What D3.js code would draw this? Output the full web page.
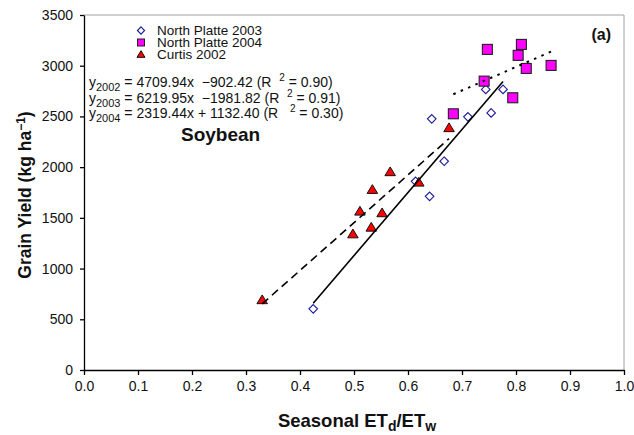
<!DOCTYPE html>
<html><head><meta charset="utf-8">
<script src="https://cdn.jsdelivr.net/npm/d3@7"></script>
<style>
body{margin:0;background:#fff;}
text{font-family:"Liberation Sans",Arial,sans-serif;}
</style></head>
<body><svg id="c" width="634" height="435"></svg>
<script>
// ---- data ----
const curtis2002X = [0.330, 0.498, 0.511, 0.532, 0.534, 0.552, 0.567, 0.620, 0.676];
const curtis2002Y = [691, 1340, 1564, 1406, 1778, 1548, 1953, 1850, 2387];
const np2003X = [0.4245, 0.614, 0.640, 0.644, 0.667, 0.711, 0.744, 0.754, 0.776];
const np2003Y = [603, 1860, 1712, 2476, 2058, 2496, 2766, 2535, 2766];
const np2004X = [0.684, 0.741, 0.747, 0.794, 0.804, 0.810, 0.819, 0.865];
const np2004Y = [2526, 2848, 3161, 2684, 3102, 3210, 2973, 3003];
const fitNames = ["2002", "2003", "2004"];
const fitSlopes = [4709.94, 6219.95, 2319.44];
const fitIntercepts = [-902.42, -1981.82, 1132.40];
const fitR2 = ["0.90", "0.91", "0.30"];
const xTicks = [0, 0.1, 0.2, 0.3, 0.4, 0.5, 0.6, 0.7, 0.8, 0.9, 1.0];
const yTicks = [0, 500, 1000, 1500, 2000, 2500, 3000, 3500];
const legendNames = ["North Platte 2003", "North Platte 2004", "Curtis 2002"];

const svg = d3.select("#c");
const x = d3.scaleLinear().domain([0, 1]).range([84, 624]);
const y = d3.scaleLinear().domain([0, 3500]).range([370, 15]);

// plot frame (top/right grey)
svg.append("path").attr("d", `M${x(0)},${y(3500)}H${x(1)}V${y(0)}`)
  .attr("fill", "none").attr("stroke", "#a0a0a0").attr("stroke-width", 1);

// axes
const xAxis = d3.axisBottom(x).tickValues(xTicks).tickFormat(d3.format(".1f")).tickSizeInner(5).tickSizeOuter(0).tickPadding(6);
const gx = svg.append("g").attr("transform", `translate(0,${y(0)})`).call(xAxis);
const yAxis = d3.axisLeft(y).tickValues(yTicks).tickFormat(d3.format("d")).tickSizeInner(4).tickSizeOuter(0).tickPadding(7);
const gy = svg.append("g").attr("transform", `translate(${x(0)},0)`).call(yAxis);
[gx, gy].forEach(g => {
  g.selectAll("path,line").attr("stroke", "#000").attr("stroke-width", 1.3);
  g.selectAll("text").attr("font-size", 14).attr("fill", "#111").attr("font-family", '"Liberation Sans",Arial,sans-serif');
});

// markers
function diamondPath(s){ return `M0,${-s}L${s},0L0,${s}L${-s},0Z`; }
function trianglePath(s){ return `M0,${-s}L${s*1.05},${s*0.75}L${-s*1.05},${s*0.75}Z`; }

svg.append("g").selectAll("path").data(np2003X).join("path")
  .attr("d", diamondPath(4.3))
  .attr("transform", (d, i) => `translate(${x(d)},${y(np2003Y[i])})`)
  .attr("fill", "none").attr("stroke", "#1a1a9a").attr("stroke-width", 1.1);

svg.append("g").selectAll("rect").data(np2004X).join("rect")
  .attr("x", d => x(d) - 5).attr("y", (d, i) => y(np2004Y[i]) - 5)
  .attr("width", 10).attr("height", 10)
  .attr("fill", "#ff00ff").attr("stroke", "#222").attr("stroke-width", 1.1);

svg.append("g").selectAll("path").data(curtis2002X).join("path")
  .attr("d", trianglePath(5))
  .attr("transform", (d, i) => `translate(${x(d)},${y(curtis2002Y[i])})`)
  .attr("fill", "#ff0000").attr("stroke", "#111").attr("stroke-width", 1);

// regression lines
const fitX = [curtis2002X, np2003X, np2004X];
const dashes = ["8,5", null, "2.5,5.5"];
fitNames.forEach((n, k) => {
  const x0 = d3.min(fitX[k]), x1 = d3.max(fitX[k]);
  svg.append("line")
    .attr("x1", x(x0)).attr("y1", y(fitSlopes[k] * x0 + fitIntercepts[k]))
    .attr("x2", x(x1)).attr("y2", y(fitSlopes[k] * x1 + fitIntercepts[k]))
    .attr("stroke", "#000").attr("stroke-width", k === 2 ? 2 : 1.6)
    .attr("stroke-dasharray", dashes[k]);
});

// legend
const lg = svg.append("g");
const legY = [30.5, 42.5, 54.5];
lg.append("path").attr("d", diamondPath(3.6)).attr("transform", `translate(141,${legY[0]})`)
  .attr("fill", "none").attr("stroke", "#1a1a9a").attr("stroke-width", 1.1);
lg.append("rect").attr("x", 137.5).attr("y", legY[1] - 3.5).attr("width", 7).attr("height", 7)
  .attr("fill", "#ff00ff").attr("stroke", "#222").attr("stroke-width", 1);
lg.append("path").attr("d", trianglePath(3.8)).attr("transform", `translate(141,${legY[2]})`)
  .attr("fill", "#ff0000").attr("stroke", "#111").attr("stroke-width", 1);
legendNames.forEach((n, i) => {
  lg.append("text").attr("x", 157).attr("y", legY[i] + 4.5).attr("font-size", 13.5).attr("fill", "#111").text(n);
});

// equations
const eqY = [87, 102.5, 118];
fitNames.forEach((n, k) => {
  const slope = fitSlopes[k].toFixed(2), b = fitIntercepts[k];
  const bStr = b < 0 ? "  \u2212" + Math.abs(b).toFixed(2) : " + " + b.toFixed(2);
  const t = svg.append("text").attr("x", 89).attr("y", eqY[k]).attr("font-size", 14)
    .attr("fill", "#111").attr("xml:space", "preserve").style("white-space", "pre");
  t.append("tspan").text("y");
  t.append("tspan").attr("dy", 4).attr("font-size", 11).text(n);
  t.append("tspan").attr("dy", -4).text(" = " + slope + "x" + bStr + " (R " + (k === 2 ? "  " : " "));
  t.append("tspan").attr("dy", -6).attr("font-size", 10).text("2");
  t.append("tspan").attr("dy", 6).text(" = " + fitR2[k] + ")");
});

// Soybean
svg.append("text").attr("x", 181).attr("y", 141).attr("font-size", 19).attr("font-weight", "bold")
  .attr("fill", "#111").text("Soybean");

// (a)
svg.append("text").attr("x", 611).attr("y", 40).attr("text-anchor", "end").attr("font-size", 16)
  .attr("font-weight", "bold").attr("font-family", '"Liberation Serif","Times New Roman",serif')
  .attr("fill", "#111").text("(a)");

// axis titles
const xt = svg.append("text").attr("x", 357).attr("y", 427).attr("text-anchor", "middle")
  .attr("font-size", 18.5).attr("font-weight", "bold").attr("fill", "#111");
xt.append("tspan").text("Seasonal ET");
xt.append("tspan").attr("dy", 4).attr("font-size", 14).text("d");
xt.append("tspan").attr("dy", -4).text("/ET");
xt.append("tspan").attr("dy", 4).attr("font-size", 14).text("w");

const yt = svg.append("text").attr("transform", "translate(31,195) rotate(-90)").attr("text-anchor", "middle")
  .attr("font-size", 17.5).attr("font-weight", "bold").attr("fill", "#111");
yt.append("tspan").text("Grain Yield (kg ha");
yt.append("tspan").attr("dy", -6).attr("font-size", 12).text("\u22121");
yt.append("tspan").attr("dy", 6).text(")");
</script></body></html>
